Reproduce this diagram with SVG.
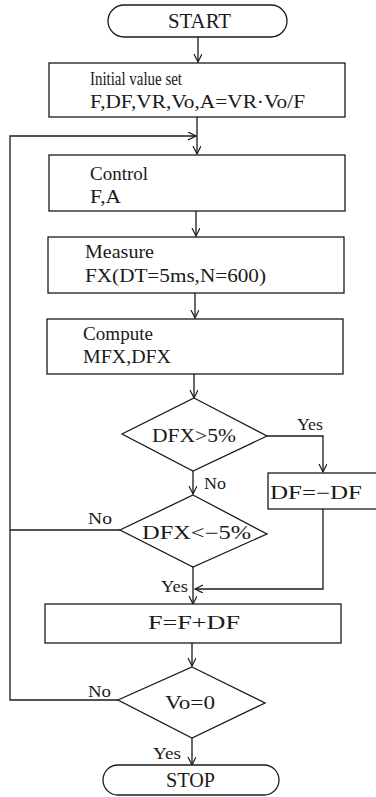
<svg xmlns="http://www.w3.org/2000/svg" width="376" height="797" viewBox="0 0 376 797">
<style>
.s{fill:none;stroke:#1a1a1a;stroke-width:1.3}
.b{fill:#fff;stroke:#1a1a1a;stroke-width:1.3}
text{font-family:'Liberation Serif','DejaVu Serif',serif;font-size:18px;fill:#1a1a1a}
.t{font-size:20px}
.l{font-size:17px}
</style>
<defs>
<marker id="ah" markerUnits="userSpaceOnUse" markerWidth="10" markerHeight="10" refX="8" refY="4" orient="auto">
<path d="M0,0 L8,4 L0,8" fill="none" stroke="#1a1a1a" stroke-width="1.2"/>
</marker>
</defs>
<rect width="376" height="797" fill="#fff"/>
<g id="connectors">
<line class="s" x1="198" y1="37" x2="198" y2="62" marker-end="url(#ah)"/>
<line class="s" x1="197" y1="117" x2="197" y2="154" marker-end="url(#ah)"/>
<polyline class="s" points="118,700 10,700 10,136 196,136" marker-end="url(#ah)"/>
<line class="s" x1="120" y1="530" x2="10" y2="530"/>
<line class="s" x1="196" y1="211" x2="196" y2="236" marker-end="url(#ah)"/>
<line class="s" x1="195" y1="293" x2="195" y2="318" marker-end="url(#ah)"/>
<line class="s" x1="194" y1="374" x2="194" y2="398" marker-end="url(#ah)"/>
<polyline class="s" points="267,436 323,436 323,472" marker-end="url(#ah)"/>
<line class="s" x1="193" y1="471" x2="193" y2="494" marker-end="url(#ah)"/>
<polyline class="s" points="323,509 323,589 195,589" marker-end="url(#ah)"/>
<line class="s" x1="193" y1="567" x2="193" y2="604" marker-end="url(#ah)"/>
<line class="s" x1="192" y1="643" x2="192" y2="666" marker-end="url(#ah)"/>
<line class="s" x1="192" y1="738" x2="192" y2="765" marker-end="url(#ah)"/>
<text class="l" x="297" y="430" textLength="26" lengthAdjust="spacingAndGlyphs">Yes</text>
<text class="l" x="204" y="489" textLength="22" lengthAdjust="spacingAndGlyphs">No</text>
<text class="l" x="88" y="524" textLength="24" lengthAdjust="spacingAndGlyphs">No</text>
<text class="l" x="161" y="592" textLength="27" lengthAdjust="spacingAndGlyphs">Yes</text>
<text class="l" x="88" y="697" textLength="23" lengthAdjust="spacingAndGlyphs">No</text>
<text class="l" x="153" y="759" textLength="28" lengthAdjust="spacingAndGlyphs">Yes</text>
</g>
<g id="start">
<rect class="b" x="108" y="5" width="179" height="32" rx="16"/>
<text class="t" x="168" y="28" textLength="63" lengthAdjust="spacingAndGlyphs">START</text>
</g>
<g id="init">
<rect class="b" x="49" y="63" width="296" height="54"/>
<text x="90" y="85" textLength="92" lengthAdjust="spacingAndGlyphs">Initial value set</text>
<text x="90" y="108" textLength="215" lengthAdjust="spacingAndGlyphs">F,DF,VR,Vo,A=VR·Vo/F</text>
</g>
<g id="control">
<rect class="b" x="49" y="155" width="296" height="56"/>
<text x="90" y="180" textLength="58" lengthAdjust="spacingAndGlyphs">Control</text>
<text x="90" y="203" textLength="31" lengthAdjust="spacingAndGlyphs">F,A</text>
</g>
<g id="measure">
<rect class="b" x="48" y="237" width="296" height="56"/>
<text x="85" y="258" textLength="69" lengthAdjust="spacingAndGlyphs">Measure</text>
<text x="85" y="282" textLength="181" lengthAdjust="spacingAndGlyphs">FX(DT=5ms,N=600)</text>
</g>
<g id="compute">
<rect class="b" x="47" y="319" width="296" height="55"/>
<text x="83" y="340" textLength="70" lengthAdjust="spacingAndGlyphs">Compute</text>
<text x="83" y="363" textLength="88" lengthAdjust="spacingAndGlyphs">MFX,DFX</text>
</g>
<g id="dec1">
<polygon class="b" points="194,398 267,436 193,471 122,434"/>
<text x="152" y="442" textLength="84" lengthAdjust="spacingAndGlyphs">DFX&gt;5%</text>
</g>
<g id="negate">
<rect class="b" x="268" y="473" width="112" height="36"/>
<text x="270" y="499" textLength="92" lengthAdjust="spacingAndGlyphs">DF=−DF</text>
</g>
<g id="dec2">
<polygon class="b" points="193,495 267,534 193,567 120,530"/>
<text x="142" y="539" textLength="109" lengthAdjust="spacingAndGlyphs">DFX&lt;−5%</text>
</g>
<g id="update">
<rect class="b" x="45" y="604" width="296" height="39"/>
<text x="148" y="629" textLength="92" lengthAdjust="spacingAndGlyphs">F=F+DF</text>
</g>
<g id="dec3">
<polygon class="b" points="192,667 265,703 192,738 118,700"/>
<text x="165" y="709" textLength="50" lengthAdjust="spacingAndGlyphs">Vo=0</text>
</g>
<g id="stop">
<rect class="b" x="103" y="765" width="176" height="30" rx="15"/>
<text class="t" x="166" y="787" textLength="49" lengthAdjust="spacingAndGlyphs">STOP</text>
</g>
</svg>
